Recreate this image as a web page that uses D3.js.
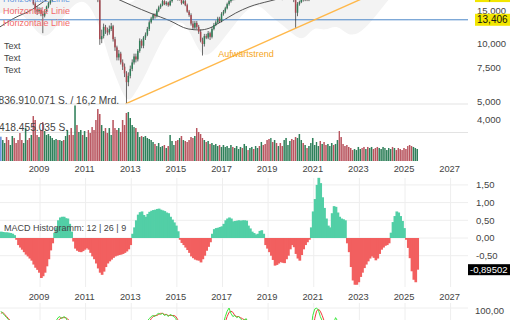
<!DOCTYPE html>
<html>
<head>
<meta charset="utf-8">
<script src="https://cdn.jsdelivr.net/npm/d3@7"></script>
<style>
  body { margin: 0; background: #fff; }
  svg { display: block; font-family: "Liberation Sans", Arial, sans-serif; }
</style>
</head>
<body>
<div id="chart"></div>
<script>
// monthly data, first month = April 2007
var firstMonth = new Date(2007, 3, 1);

var opens = [
  20.2, 20.6, 21.3, 21.9, 21.1, 20.3, 20.9, 21.6, 20.7,
  19.9, 19.1, 18.6, 18.1, 18.5, 18.9, 17.7, 17.4, 17.6, 16.3, 15.2, 14.8,
  15.1, 14.4, 14.1, 14.9, 15.7, 16.4, 16.9, 17.9, 18.8, 19.6, 19.2, 20.0,
  20.6, 20.2, 20.8, 21.4, 21.0, 19.6, 19.2, 19.8, 19.0, 19.4, 19.8, 19.2,
  19.5, 20.0, 19.6, 19.0, 18.8, 18.3, 18.0, 17.0, 10.6, 11.0, 12.3, 11.8,
  11.5, 12.0, 12.4, 10.6, 9.6, 8.5, 8.9, 8.0, 7.6, 7.0, 6.3, 6.8,
  7.4, 8.0, 8.6, 8.3, 9.2, 10.4, 9.8, 10.8, 11.2, 12.0, 13.0, 13.6,
  14.2, 14.0, 15.0, 15.6, 16.0, 16.8, 16.2, 16.5, 16.0, 16.8, 17.4, 17.9,
  17.6, 17.2, 17.6, 16.4, 16.8, 16.0, 14.8, 14.2, 12.8, 12.2, 12.9, 12.3,
  11.6, 10.4, 10.0, 11.0, 10.8, 11.4, 10.9, 12.0, 12.6, 13.0, 13.6, 13.2,
  14.4, 14.8, 15.4, 16.2, 16.8, 17.6, 17.2, 17.8, 18.4, 19.0, 19.6, 19.2,
  19.8, 20.4, 20.0, 20.6, 21.2, 21.0, 21.4, 21.8, 21.2, 21.6, 20.4, 19.6,
  18.8, 18.4, 18.8, 18.2, 18.6, 17.8, 18.2, 17.6, 17.4, 18.0, 18.6, 18.9,
  19.2, 19.0, 17.0, 14.6, 16.2, 16.6, 17.4, 17.0, 17.6, 17.0, 17.4, 21.8,
  23.0, 24.6, 26.8, 28.0, 27.2, 28.4, 27.6, 26.8, 27.4, 28.8, 29.6, 28.4,
  28.8, 29.2, 28.6, 27.4, 26.0, 25.2, 23.8, 23.0, 22.6, 21.4, 22.0, 22.6,
  23.0, 23.4, 22.8, 22.4, 22.8, 22.2, 22.6, 23.0, 22.4, 21.8, 21.6, 22.4,
  22.8, 23.2, 23.6, 24.8, 26.4, 27.6, 27.2, 27.8, 27.0, 26.6, 26.0, 25.2,
  24.6, 24.0, 23.6, 22.8, 22.4, 22.8, 23.0
];
var highs = [
  21.0, 21.8, 22.4, 22.3, 21.5, 21.3, 22.0, 21.9, 21.0,
  20.3, 19.6, 19.0, 18.9, 19.4, 19.2, 18.2, 18.0, 17.9, 16.6, 15.8, 15.6,
  15.5, 14.9, 15.2, 15.9, 16.7, 17.3, 18.2, 19.1, 19.9, 19.9, 20.3, 20.9,
  20.9, 21.1, 21.7, 21.8, 21.3, 20.2, 20.1, 20.1, 19.7, 20.2, 20.1, 19.8,
  20.3, 20.4, 19.9, 19.4, 19.2, 18.6, 18.4, 17.2, 11.9, 12.8, 12.6, 12.2,
  12.5, 12.9, 12.6, 10.9, 9.8, 9.3, 9.1, 8.3, 7.9, 7.2, 7.1, 7.7,
  8.3, 8.9, 8.9, 9.4, 10.7, 10.6, 11.0, 11.5, 12.3, 13.3, 13.9, 14.5,
  14.5, 15.3, 15.9, 16.3, 17.1, 17.0, 16.8, 16.7, 17.1, 17.7, 18.2, 18.1,
  17.9, 17.9, 17.9, 17.1, 17.2, 16.3, 15.1, 14.5, 13.2, 13.2, 13.2, 12.6,
  11.9, 10.8, 11.3, 11.3, 11.7, 11.6, 12.3, 12.9, 13.3, 13.9, 13.9, 14.7,
  15.1, 15.7, 16.5, 17.1, 17.9, 17.8, 18.1, 18.7, 19.3, 19.9, 19.9, 20.1,
  20.7, 20.8, 20.9, 21.5, 21.6, 21.7, 22.1, 22.0, 21.9, 21.9, 20.8, 19.9,
  19.1, 19.1, 19.1, 18.9, 18.9, 18.5, 18.5, 17.9, 18.3, 18.9, 19.2, 19.5,
  19.6, 19.4, 17.6, 16.6, 16.9, 17.7, 17.7, 17.9, 17.9, 17.9, 22.3, 23.5,
  25.0, 27.2, 28.5, 28.4, 28.8, 28.7, 27.9, 27.8, 29.2, 30.0, 30.1, 29.2,
  29.8, 29.7, 29.0, 27.8, 26.5, 25.6, 24.2, 23.5, 23.0, 22.4, 23.0, 23.4,
  23.8, 23.7, 23.1, 23.1, 23.1, 22.9, 23.4, 23.3, 22.7, 22.2, 22.7, 23.1,
  23.6, 23.9, 25.1, 26.8, 28.0, 28.0, 28.2, 28.1, 27.4, 26.9, 26.3, 25.5,
  24.9, 24.4, 23.9, 23.4, 23.2, 23.3, 23.7
];
var lows = [
  19.8, 20.2, 20.9, 20.8, 19.8, 19.9, 20.5, 20.4, 19.5,
  18.7, 18.2, 17.6, 17.8, 18.2, 17.4, 16.9, 17.0, 16.0, 14.6, 14.2, 14.5,
  14.0, 11.4, 13.8, 14.6, 15.4, 16.1, 16.6, 17.6, 18.5, 18.8, 19.0, 19.7,
  19.8, 19.8, 20.5, 20.6, 19.2, 18.7, 18.9, 18.6, 18.8, 19.1, 18.9, 18.9,
  19.2, 19.3, 18.6, 18.4, 18.0, 17.6, 16.6, 9.9, 10.1, 10.7, 11.3, 11.1,
  11.2, 11.7, 10.3, 9.2, 8.2, 8.2, 7.8, 7.3, 6.7, 4.9, 6.0, 6.6,
  7.2, 7.8, 8.0, 8.1, 9.0, 9.5, 9.5, 10.5, 11.0, 11.7, 12.8, 13.4,
  13.6, 13.8, 14.7, 15.3, 15.8, 16.0, 15.9, 15.7, 15.8, 16.5, 17.1, 17.3,
  16.9, 16.9, 16.1, 16.2, 15.8, 14.6, 13.9, 12.5, 11.9, 12.0, 12.0, 11.3,
  10.2, 8.7, 9.7, 10.6, 10.6, 10.5, 10.7, 11.8, 12.4, 12.8, 12.9, 13.0,
  14.1, 14.5, 15.2, 15.9, 16.5, 16.9, 17.0, 17.5, 18.1, 18.8, 18.9, 19.0,
  19.5, 19.7, 19.7, 20.3, 20.7, 20.8, 21.2, 21.0, 21.0, 20.1, 19.3, 18.4,
  18.0, 18.1, 17.9, 17.9, 17.5, 17.5, 17.3, 17.0, 17.2, 17.8, 18.4, 18.7,
  18.6, 16.6, 12.2, 14.0, 15.9, 16.4, 16.7, 16.8, 16.8, 16.8, 17.2, 21.4,
  22.8, 24.3, 26.5, 26.9, 27.0, 27.3, 26.4, 26.5, 27.1, 28.5, 28.1, 28.0,
  28.5, 28.3, 27.0, 25.7, 24.8, 23.5, 22.6, 22.3, 21.1, 21.2, 21.8, 22.4,
  22.8, 22.5, 22.1, 22.2, 21.9, 22.0, 22.4, 22.1, 21.5, 21.3, 21.4, 22.2,
  22.6, 22.9, 23.4, 24.5, 26.1, 26.9, 27.0, 26.8, 26.3, 25.8, 25.0, 24.3,
  23.7, 23.3, 22.6, 22.1, 22.1, 22.5, 22.7
];
var closes = [
  20.6, 21.3, 21.9, 21.1, 20.3, 20.9, 21.6, 20.7, 19.9,
  19.1, 18.6, 18.1, 18.5, 18.9, 17.7, 17.4, 17.6, 16.3, 15.2, 14.8, 15.1,
  14.4, 14.1, 14.9, 15.7, 16.4, 16.9, 17.9, 18.8, 19.6, 19.2, 20.0, 20.6,
  20.2, 20.8, 21.4, 21.0, 19.6, 19.2, 19.8, 19.0, 19.4, 19.8, 19.2, 19.5,
  20.0, 19.6, 19.0, 18.8, 18.3, 18.0, 17.0, 10.6, 11.0, 12.3, 11.8, 11.5,
  12.0, 12.4, 10.6, 9.6, 8.5, 8.9, 8.0, 7.6, 7.0, 6.3, 6.8, 7.4,
  8.0, 8.6, 8.3, 9.2, 10.4, 9.8, 10.8, 11.2, 12.0, 13.0, 13.6, 14.2,
  14.0, 15.0, 15.6, 16.0, 16.8, 16.2, 16.5, 16.0, 16.8, 17.4, 17.9, 17.6,
  17.2, 17.6, 16.4, 16.8, 16.0, 14.8, 14.2, 12.8, 12.2, 12.9, 12.3, 11.6,
  10.4, 10.0, 11.0, 10.8, 11.4, 10.9, 12.0, 12.6, 13.0, 13.6, 13.2, 14.4,
  14.8, 15.4, 16.2, 16.8, 17.6, 17.2, 17.8, 18.4, 19.0, 19.6, 19.2, 19.8,
  20.4, 20.0, 20.6, 21.2, 21.0, 21.4, 21.8, 21.2, 21.6, 20.4, 19.6, 18.8,
  18.4, 18.8, 18.2, 18.6, 17.8, 18.2, 17.6, 17.4, 18.0, 18.6, 18.9, 19.2,
  19.0, 17.0, 14.6, 16.2, 16.6, 17.4, 17.0, 17.6, 17.0, 17.4, 21.8, 23.0,
  24.6, 26.8, 28.0, 27.2, 28.4, 27.6, 26.8, 27.4, 28.8, 29.6, 28.4, 28.8,
  29.2, 28.6, 27.4, 26.0, 25.2, 23.8, 23.0, 22.6, 21.4, 22.0, 22.6, 23.0,
  23.4, 22.8, 22.4, 22.8, 22.2, 22.6, 23.0, 22.4, 21.8, 21.6, 22.4, 22.8,
  23.2, 23.6, 24.8, 26.4, 27.6, 27.2, 27.8, 27.0, 26.6, 26.0, 25.2, 24.6,
  24.0, 23.6, 22.8, 22.4, 22.8, 23.0, 23.4
];

// volume in millions of shares
var volumes = [
  357, 308, 264, 352, 308, 235, 367, 338, 264, 308,
  411, 308, 264, 484, 308, 338, 382, 660, 602, 382,
  352, 455, 572, 440, 382, 396, 367, 338, 308, 323,
  308, 308, 294, 308, 367, 455, 382, 484, 382, 815,
  528, 426, 455, 382, 440, 352, 455, 411, 499, 455,
  602, 763, 690, 528, 440, 484, 411, 484, 382, 602,
  484, 455, 484, 426, 602, 528, 705, 719, 631, 528,
  499, 484, 426, 352, 367, 352, 367, 338, 323, 308,
  279, 250, 220, 264, 206, 220, 235, 191, 220, 382,
  294, 235, 294, 308, 338, 367, 308, 294, 279, 308,
  352, 338, 367, 484, 426, 396, 338, 308, 279, 294,
  250, 264, 235, 250, 220, 235, 206, 235, 206, 220,
  191, 235, 206, 191, 220, 176, 206, 191, 250, 220,
  161, 191, 206, 176, 220, 191, 220, 279, 235, 250,
  308, 323, 338, 279, 308, 264, 220, 264, 220, 308,
  338, 235, 294, 323, 308, 352, 338, 396, 308, 264,
  235, 191, 220, 264, 338, 235, 279, 220, 294, 250,
  279, 235, 250, 220, 264, 235, 250, 308, 440, 352,
  250, 220, 235, 206, 191, 161, 176, 161, 206, 176,
  191, 206, 176, 206, 191, 206, 176, 191, 206, 191,
  176, 206, 191, 161, 191, 176, 206, 191, 161, 191,
  176, 161, 191, 176, 220, 235, 220, 206, 191, 176
];
var volumeGrid = [836910071, 418455035];
var turnoverMrd = 16.2;

var macdHist = [
  0.18, 0.17, 0.16, 0.16, 0.15, 0.14, 0.12, 0.08,
  -0.05, -0.2, -0.27, -0.33, -0.4, -0.47, -0.52, -0.58, -0.64, -0.75, -0.84, -0.9, -0.98, -1.13, -1.08, -0.98, -0.8, -0.6, -0.35, -0.15,
  0.15, 0.3, 0.5, 0.58, 0.6, 0.6, 0.56, 0.55, 0.4, 0.18,
  -0.1, -0.3, -0.36, -0.39, -0.4, -0.37, -0.33, -0.29, -0.33, -0.42, -0.52, -0.6, -0.72, -0.86, -0.98, -1.04,
  -0.95, -0.82, -0.72, -0.66, -0.61, -0.56, -0.52, -0.5, -0.48, -0.47, -0.45, -0.42, -0.38, -0.32, -0.2,
  0.12, 0.3, 0.5, 0.66, 0.73, 0.75, 0.65, 0.6, 0.68, 0.74, 0.77, 0.79, 0.8, 0.82, 0.83, 0.8, 0.78, 0.76, 0.72, 0.7, 0.6, 0.52, 0.44, 0.35, 0.19,
  -0.05, -0.14, -0.2, -0.27, -0.34, -0.42, -0.52, -0.57, -0.61, -0.63, -0.64, -0.69, -0.6, -0.5, -0.36, -0.25, -0.12,
  0.12, 0.25, 0.28, 0.29, 0.31, 0.33, 0.4, 0.5, 0.55, 0.58, 0.55, 0.47, 0.48, 0.49, 0.5, 0.49, 0.5, 0.5, 0.49, 0.35, 0.27, 0.18, 0.14, 0.1, 0.12, 0.2, 0.22, 0.12,
  -0.2, -0.3, -0.4, -0.5, -0.62, -0.78, -0.76, -0.72, -0.68, -0.7, -0.71, -0.6, -0.5, -0.32, -0.2, -0.26, -0.45, -0.58, -0.64, -0.48, -0.32, -0.2, -0.12, -0.05,
  0.3, 0.75, 1.1, 1.5, 1.7, 1.55, 1.15, 0.85, 0.55, 0.35, 0.3, 0.7, 0.9, 0.88, 0.72, 0.6, 0.55, 0.53, 0.5,
  -0.15, -0.4, -0.82, -1.2, -1.32, -1.32, -1.25, -1.1, -0.98, -0.85, -0.75, -0.66, -0.58, -0.52, -0.56, -0.63, -0.58, -0.45, -0.33, -0.27, -0.22, -0.2, -0.15,
  0.15, 0.45, 0.62, 0.75, 0.72, 0.62, 0.48, 0.28,
  -0.05, -0.28, -0.57, -0.94, -1.18, -1.25, -0.89502
];

// oscillator (fast green, slow red)
var oscFast = [
  97, 95, 93, 91, 89, 86, 82, 70, 55,
  42, 30, 25, 20, 18, 24, 30, 25, 15, 10, 8, 12,
  20, 35, 50, 62, 74, 80, 84, 86, 88, 91, 92, 90,
  92, 91, 88, 85, 70, 55, 45, 40, 48, 55, 60, 52,
  48, 44, 40, 36, 30, 25, 15, 8, 10, 18, 22, 20,
  24, 28, 20, 14, 10, 12, 10, 8, 6, 5, 12, 24,
  38, 52, 58, 66, 76, 72, 80, 84, 88, 90, 92, 93,
  92, 94, 95, 94, 95, 93, 94, 92, 94, 93, 92, 90,
  84, 80, 72, 66, 58, 44, 32, 20, 12, 14, 12, 8,
  6, 5, 14, 20, 28, 30, 42, 55, 62, 70, 74, 82,
  86, 92, 97, 100, 95, 92, 93, 91, 92, 90, 88, 89,
  90, 86, 84, 86, 85, 86, 87, 85, 82, 70, 55, 40,
  32, 30, 26, 28, 22, 24, 20, 18, 26, 38, 48, 56,
  58, 40, 15, 22, 30, 40, 42, 48, 44, 50, 78, 93,
  99, 100, 98, 92, 88, 84, 80, 82, 86, 88, 86, 91,
  88, 80, 70, 58, 45, 32, 24, 18, 12, 15, 20, 24,
  28, 24, 22, 25, 22, 24, 28, 26, 20, 18, 25, 32,
  40, 48, 60, 74, 84, 86, 87, 84, 78, 70, 60, 50,
  40, 32, 24, 20, 22, 25, 30
];
var oscSlow = [
  95, 96, 94, 92, 90, 88, 85, 78, 68,
  56, 42, 32, 25, 21, 21, 24, 26, 23, 17, 11, 10,
  13, 22, 35, 49, 62, 72, 79, 83, 86, 88, 90, 91,
  91, 91, 90, 88, 81, 70, 57, 47, 44, 48, 54, 56,
  53, 48, 44, 40, 35, 30, 23, 16, 11, 12, 17, 20,
  22, 24, 24, 21, 15, 12, 11, 10, 8, 6, 8, 14,
  25, 38, 49, 59, 67, 71, 76, 79, 84, 87, 90, 92,
  93, 93, 94, 95, 95, 94, 94, 93, 93, 93, 93, 92,
  89, 85, 79, 73, 65, 56, 45, 32, 21, 15, 13, 11,
  9, 6, 8, 13, 21, 26, 33, 42, 53, 62, 69, 75,
  81, 87, 92, 96, 97, 96, 93, 92, 92, 91, 90, 89,
  89, 88, 87, 85, 85, 85, 86, 86, 85, 80, 69, 55,
  42, 34, 29, 28, 25, 25, 23, 21, 21, 27, 37, 47,
  54, 51, 38, 26, 22, 31, 37, 43, 45, 47, 57, 74,
  90, 97, 99, 97, 93, 88, 84, 82, 83, 85, 87, 88,
  88, 86, 79, 69, 58, 45, 34, 25, 18, 15, 16, 20,
  24, 25, 25, 24, 24, 24, 25, 26, 25, 21, 21, 25,
  32, 40, 49, 61, 73, 81, 86, 86, 83, 77, 69, 60,
  50, 41, 32, 25, 22, 22, 26
];

// long moving average, read as points
var maDates = ["2007-04", "2007-11", "2008-09", "2009-03", "2009-08", "2010-05", "2011-03", "2011-10",
  "2012-06", "2013-01", "2013-12", "2014-09", "2015-07", "2016-01", "2016-06", "2016-12",
  "2017-08", "2018-03", "2019-02", "2019-10", "2020-08", "2021-06", "2022-06", "2023-06", "2024-06", "2025-07"];
var maValues = [12.3, 13.6, 15.2, 16.7, 17.8, 19.2, 19.8, 18.8,
  17.2, 16.0, 14.4, 13.3, 12.0, 11.85, 12.1, 13.05,
  14.55, 15.66, 16.84, 17.6, 18.2, 19.5, 21.5, 22.6, 23.4, 24.0];

// shaded price envelope
var bandDates = ["2007-04", "2007-10", "2008-04", "2008-10", "2009-04", "2009-10", "2010-06", "2011-01", "2011-08",
  "2012-01", "2012-06", "2012-11", "2013-03", "2013-09", "2014-04", "2014-10", "2015-04", "2015-09", "2016-02",
  "2016-07", "2017-01", "2017-07", "2018-01", "2018-08", "2019-02", "2019-08", "2020-03", "2020-08", "2021-01",
  "2021-07", "2022-01", "2022-07", "2023-01", "2023-07", "2024-01", "2024-07", "2025-01", "2025-08"];
var bandLow = [14.5, 15.0, 14.5, 12.0, 10.5, 12.5, 16.0, 17.5, 13.0,
  8.5, 6.3, 4.8, 5.5, 7.0, 10.0, 12.5, 13.5, 11.0, 8.6,
  8.8, 10.5, 12.5, 15.0, 16.5, 14.0, 12.8, 11.0, 10.4, 12.5,
  11.6, 12.8, 11.0, 11.3, 13.0, 15.5, 18.5, 19.0, 19.5];
var bandHigh = [24, 25, 25, 24, 22, 23, 25, 26, 25,
  21, 18, 16, 17, 19, 20, 21, 22, 21, 19,
  18, 20, 22, 24, 25, 24, 23, 22, 24, 30,
  33, 33, 30, 28, 27, 29, 32, 31, 30];

var trendDates = ["2012-10", "2023-01"];
var trendValues = [4.85, 17.05];
var horizontalLevel = 13.406;
var topLevel = 17.86;

var priceTicks = [15, 10, 7.5, 5, 4];
var macdTicks = [1.5, 1, 0.5, 0, -0.5];
var yearTicks = [2009, 2011, 2013, 2015, 2017, 2019, 2021, 2023, 2025, 2027];
var notes = ["Text", "Text", "Text"];

var W = 510, H = 320, plotRight = 468;
var de = d3.formatLocale({decimal: ",", thousands: ".", grouping: [3], currency: ["", "€"], minus: "-"});
var parseMonth = d3.timeParse("%Y-%m");

var months = opens.map(function(d, i) { return d3.timeMonth.offset(firstMonth, i); });
var idx = d3.range(months.length);

var x = d3.scaleTime().domain([new Date(2009, 0, 1), new Date(2027, 0, 1)]).range([40, 450.6]);
var yPrice = d3.scaleLog().domain([10, 15]).range([44, 10.5]);
var yVol = d3.scaleLinear().domain([0, volumeGrid[0]]).range([161, 104]);
var yMacd = d3.scaleLinear().domain([0, 1]).range([238, 202.6]);
var yOsc = d3.scaleLinear().domain([0, 100]).range([415, 308]);

function x0(i) { return x(months[i]); }
function x1(i) { return x(d3.timeMonth.offset(months[i], 1)); }
function xm(i) { return (x0(i) + x1(i)) / 2; }
var up = function(i) { return closes[i] >= opens[i]; };

var svg = d3.select("#chart").append("svg").attr("width", W).attr("height", H);
var defs = svg.append("defs");
defs.append("clipPath").attr("id", "clipPrice").append("rect")
  .attr("x", 0).attr("y", -60).attr("width", plotRight).attr("height", 164.5);
defs.append("clipPath").attr("id", "clipPlot").append("rect")
  .attr("x", 0).attr("y", -60).attr("width", plotRight).attr("height", 400);

// ---------- price panel ----------
var price = svg.append("g").attr("clip-path", "url(#clipPrice)");

price.append("path")
  .datum(bandDates.map(function(d, i) { return {date: parseMonth(d), lo: bandLow[i], hi: bandHigh[i]}; }))
  .attr("fill", "#f3f3f3")
  .attr("d", d3.area().curve(d3.curveBasis)
    .x(function(d) { return x(d.date); })
    .y0(function(d) { return yPrice(d.lo); })
    .y1(function(d) { return yPrice(d.hi); }));

price.append("path")
  .datum(maDates.map(function(d, i) { return {date: parseMonth(d), v: maValues[i]}; }))
  .attr("fill", "none").attr("stroke", "#555").attr("stroke-width", 1)
  .attr("d", d3.line().curve(d3.curveMonotoneX)
    .x(function(d) { return x(d.date); })
    .y(function(d) { return yPrice(d.v); }));

price.append("line")
  .attr("x1", 0).attr("x2", plotRight)
  .attr("y1", yPrice(horizontalLevel)).attr("y2", yPrice(horizontalLevel))
  .attr("stroke", "#4a86c8").attr("stroke-width", 1);

// trend line through its two anchors, extended to the right edge
var tA = [x(parseMonth(trendDates[0])), yPrice(trendValues[0])];
var tB = [x(parseMonth(trendDates[1])), yPrice(trendValues[1])];
var slope = (tB[1] - tA[1]) / (tB[0] - tA[0]);
price.append("line")
  .attr("x1", tA[0]).attr("y1", tA[1])
  .attr("x2", plotRight).attr("y2", tA[1] + slope * (plotRight - tA[0]))
  .attr("stroke", "#ffb84a").attr("stroke-width", 1.4);

price.selectAll("line.wick").data(idx).enter().append("line")
  .attr("class", "wick")
  .attr("x1", xm).attr("x2", xm)
  .attr("y1", function(i) { return yPrice(highs[i]); })
  .attr("y2", function(i) { return yPrice(lows[i]); })
  .attr("stroke", "#2b2b2b").attr("stroke-width", 0.7);

price.selectAll("rect.body").data(idx).enter().append("rect")
  .attr("class", "body")
  .attr("x", function(i) { return xm(i) - 0.75; })
  .attr("width", 1.5)
  .attr("y", function(i) { return yPrice(Math.max(opens[i], closes[i])); })
  .attr("height", function(i) { return Math.max(0.8, Math.abs(yPrice(opens[i]) - yPrice(closes[i]))); })
  .attr("fill", function(i) { return up(i) ? "#2f7d57" : "#a8474f"; });

// ---------- volume ----------
var vol = svg.append("g").attr("clip-path", "url(#clipPlot)");
vol.selectAll("line.vgrid").data(volumeGrid).enter().append("line")
  .attr("x1", 0).attr("x2", plotRight)
  .attr("y1", function(d) { return yVol(d); }).attr("y2", function(d) { return yVol(d); })
  .attr("stroke", "#e3e3e3").attr("stroke-width", 1);

vol.selectAll("rect.vol").data(idx).enter().append("rect")
  .attr("x", function(i) { return x0(i) + 0.15; })
  .attr("width", function(i) { return x1(i) - x0(i) - 0.4; })
  .attr("y", function(i) { return yVol(volumes[i] * 1e6); })
  .attr("height", function(i) { return yVol(0) - yVol(volumes[i] * 1e6); })
  .attr("fill", function(i) { return i === 0 ? "#5b8bd9" : (up(i) ? "#2e7f59" : "#b8545e"); });

// ---------- MACD panel ----------
var macd = svg.append("g").attr("clip-path", "url(#clipPlot)");
macd.selectAll("line.hg").data(macdTicks).enter().append("line")
  .attr("x1", 0).attr("x2", plotRight)
  .attr("y1", function(d) { return yMacd(d); }).attr("y2", function(d) { return yMacd(d); })
  .attr("stroke", "#eeeeee");
macd.selectAll("line.vg").data(yearTicks).enter().append("line")
  .attr("x1", function(d) { return x(new Date(d, 0, 1)); })
  .attr("x2", function(d) { return x(new Date(d, 0, 1)); })
  .attr("y1", 178).attr("y2", 287)
  .attr("stroke", "#eeeeee");

macd.selectAll("rect.h").data(idx).enter().append("rect")
  .attr("x", x0)
  .attr("width", function(i) { return x1(i) - x0(i) + 0.8; })
  .attr("y", function(i) { return yMacd(Math.max(0, macdHist[i])); })
  .attr("height", function(i) { return Math.abs(yMacd(macdHist[i]) - yMacd(0)); })
  .attr("fill", function(i) { return macdHist[i] >= 0 ? "#52cfa6" : "#f25f5f"; });

// ---------- oscillator panel ----------
var osc = svg.append("g").attr("clip-path", "url(#clipPlot)");
osc.append("line").attr("x1", 0).attr("x2", plotRight)
  .attr("y1", yOsc(100)).attr("y2", yOsc(100)).attr("stroke", "#eeeeee");
osc.selectAll("line.vg").data(yearTicks).enter().append("line")
  .attr("x1", function(d) { return x(new Date(d, 0, 1)); })
  .attr("x2", function(d) { return x(new Date(d, 0, 1)); })
  .attr("y1", 303).attr("y2", 320)
  .attr("stroke", "#eeeeee");
var oscLine = function(arr) {
  return d3.line().x(xm).y(function(i) { return yOsc(arr[i]); })(idx);
};
osc.append("path").attr("d", oscLine(oscSlow)).attr("fill", "none").attr("stroke", "#f03c3c").attr("stroke-width", 1);
osc.append("path").attr("d", oscLine(oscFast)).attr("fill", "none").attr("stroke", "#3ee83e").attr("stroke-width", 1);

// ---------- texts ----------
var txt = svg.append("g").attr("fill", "#444");

txt.selectAll("text.hl").data([["#6b9be0", -1], ["#f26a6a", 10.5], ["#f26a6a", 23]]).enter().append("text")
  .attr("x", 3).attr("y", function(d) { return d[1]; }).attr("dy", "0.35em")
  .attr("font-size", 9).attr("fill", function(d) { return d[0]; })
  .text("Horizontale Linie");

txt.selectAll("text.note").data(notes).enter().append("text")
  .attr("x", 4).attr("y", function(d, i) { return 46 + i * 12; }).attr("dy", "0.35em")
  .attr("font-size", 9).text(function(d) { return d; });

svg.append("text").attr("x", 246).attr("y", 54).attr("dy", "0.35em")
  .attr("text-anchor", "middle").attr("font-size", 9).attr("fill", "#f5a623")
  .text("Aufwärtstrend");

txt.append("text").attr("x", -1.5).attr("y", yVol(volumeGrid[0]) - 3.5).attr("dy", "0.35em")
  .attr("font-size", 10.2)
  .text(de.format(",")(volumeGrid[0]) + " S. / " + de.format(",.1f")(turnoverMrd) + " Mrd.");
txt.append("text").attr("x", -1).attr("y", yVol(volumeGrid[1]) - 5).attr("dy", "0.35em")
  .attr("font-size", 10.2)
  .text(de.format(",")(volumeGrid[1]) + " S.");

txt.append("text").attr("x", 4).attr("y", 228).attr("dy", "0.35em")
  .attr("font-size", 9).text("MACD Histogramm: 12 | 26 | 9");

// right axes
txt.selectAll("text.pt").data(priceTicks).enter().append("text")
  .attr("x", 477).attr("y", function(d) { return yPrice(d); }).attr("dy", "0.35em")
  .attr("font-size", 9.5).text(function(d) { return de.format(",.3f")(d); });

[horizontalLevel, topLevel].forEach(function(v) {
  var yy = yPrice(v);
  svg.append("rect").attr("x", 475).attr("y", yy - 6).attr("width", 36).attr("height", 12).attr("fill", "#f2e600");
  svg.append("text").attr("x", 477).attr("y", yy).attr("dy", "0.35em")
    .attr("font-size", 10).attr("fill", "#111").text(de.format(",.3f")(v));
});

txt.selectAll("text.mt").data(macdTicks).enter().append("text")
  .attr("x", 476).attr("y", function(d) { return yMacd(d); }).attr("dy", "0.35em")
  .attr("font-size", 9.5).text(function(d) { return de.format(".2f")(d); });

var lastHist = macdHist[macdHist.length - 1];
svg.append("rect").attr("x", 468).attr("y", yMacd(lastHist) - 5.5).attr("width", 42).attr("height", 11).attr("fill", "#000");
svg.append("text").attr("x", 470).attr("y", yMacd(lastHist)).attr("dy", "0.35em")
  .attr("font-size", 9.5).attr("fill", "#fff").text(de.format(".5f")(lastHist));

txt.append("text").attr("x", 475).attr("y", yOsc(100) + 2.5).attr("dy", "0.35em")
  .attr("font-size", 9.5).text(de.format(".2f")(100));

// year labels (two time axes)
[169, 297].forEach(function(yy) {
  txt.selectAll(null).data(yearTicks).enter().append("text")
    .attr("x", function(d) { return x(new Date(d, 0, 1)) - 1; })
    .attr("y", yy).attr("dy", "0.35em")
    .attr("text-anchor", "middle").attr("font-size", 9.3)
    .text(function(d) { return d; });
});
</script>
</body>
</html>
